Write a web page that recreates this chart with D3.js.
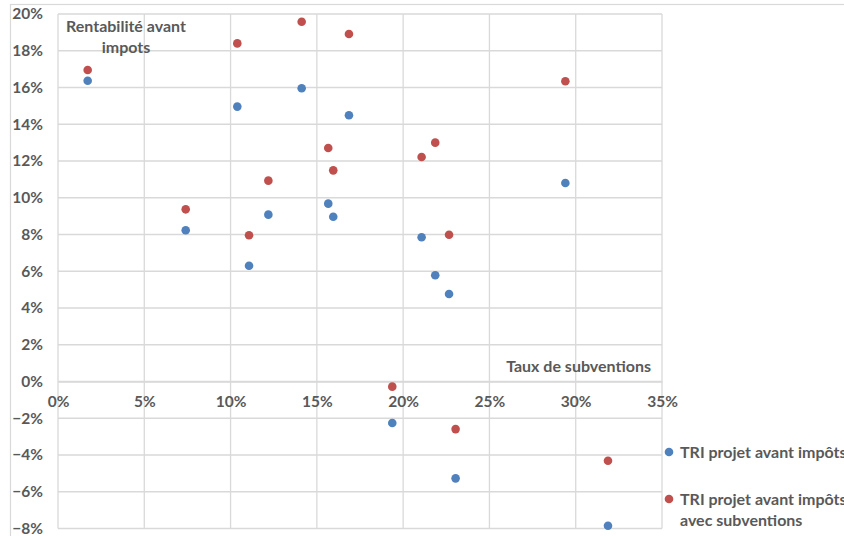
<!DOCTYPE html>
<html>
<head>
<meta charset="utf-8">
<script src="https://cdn.jsdelivr.net/npm/d3@7"></script>
<style>
  html, body { margin: 0; padding: 0; background: #fff; overflow: hidden; }
  svg { display: block; }
  text { font-family: Lato, "Open Sans", sans-serif; font-weight: bold; fill: #595959; }
</style>
</head>
<body>
<svg id="chart" width="844" height="536"></svg>
<script>
// Taux de subventions (fraction) for each project
const tauxSubventions = [0.0172, 0.0740, 0.1039, 0.1107, 0.1219, 0.1412, 0.1566, 0.1595,
                         0.1686, 0.1937, 0.2107, 0.2186, 0.2266, 0.2304, 0.2940, 0.3187];
// TRI projet avant impôts
const triAvantImpots = [0.1637, 0.0823, 0.1496, 0.0630, 0.0908, 0.1596, 0.0968, 0.0897,
                        0.1449, -0.0226, 0.0785, 0.0578, 0.0476, -0.0527, 0.1080, -0.0785];
// TRI projet avant impôts avec subventions
const triAvecSubventions = [0.1695, 0.0937, 0.1840, 0.0796, 0.1093, 0.1958, 0.1271, 0.1149,
                            0.1891, -0.0028, 0.1222, 0.1300, 0.0799, -0.0259, 0.1634, -0.0431];

const xTicks = [0, 0.05, 0.10, 0.15, 0.20, 0.25, 0.30, 0.35];
const yTicks = [-0.08, -0.06, -0.04, -0.02, 0, 0.02, 0.04, 0.06, 0.08, 0.10, 0.12, 0.14, 0.16, 0.18, 0.20];

const seriesNames = ["TRI projet avant impôts", "TRI projet avant impôts avec subventions"];
const seriesColors = ["#4F81BD", "#C0504D"];
const xTitle = "Taux de subventions";
const yTitleLines = ["Rentabilité avant", "impots"];

const svg = d3.select("#chart");
const plot = { left: 58, right: 662, top: 14, bottom: 528.5 };

const x = d3.scaleLinear().domain([0, 0.35]).range([plot.left, plot.right]);
const y = d3.scaleLinear().domain([-0.08, 0.20]).range([plot.bottom, plot.top]);
const pct = d3.format(".0%");
const gridColor = "#d9d9d9";
const tickFont = 15.5;
const labelFont = 16;

// chart area frame
svg.append("rect")
  .attr("x", 10.5).attr("y", 4.5)
  .attr("width", 900).attr("height", 600)
  .attr("fill", "none").attr("stroke", gridColor).attr("stroke-width", 1.2);

// gridlines
svg.append("g").selectAll("line").data(yTicks).join("line")
  .attr("x1", plot.left).attr("x2", plot.right)
  .attr("y1", d => y(d)).attr("y2", d => y(d))
  .attr("stroke", gridColor).attr("stroke-width", 1.3);
svg.append("g").selectAll("line").data(xTicks).join("line")
  .attr("x1", d => x(d)).attr("x2", d => x(d))
  .attr("y1", plot.top).attr("y2", plot.bottom)
  .attr("stroke", gridColor).attr("stroke-width", 1.3);

// horizontal axis crosses at 0%
const xAxis = d3.axisBottom(x).tickValues(xTicks).tickFormat(pct).tickSize(0).tickPadding(14);
const gx = svg.append("g").attr("transform", `translate(0,${y(0)})`).call(xAxis);
gx.select(".domain").attr("stroke", gridColor).attr("stroke-width", 1.3);
gx.selectAll("text").attr("font-size", tickFont).style("font-family", "Lato, sans-serif");

const yAxis = d3.axisLeft(y).tickValues(yTicks).tickFormat(pct).tickSize(0).tickPadding(15);
const gy = svg.append("g").attr("transform", `translate(${plot.left},0)`).call(yAxis);
gy.select(".domain").remove();
gy.selectAll("text").attr("font-size", tickFont).style("font-family", "Lato, sans-serif");

// axis titles
svg.append("text")
  .attr("x", 651).attr("y", 366).attr("dy", "0.35em")
  .attr("text-anchor", "end").attr("font-size", labelFont)
  .text(xTitle);
svg.append("text")
  .attr("x", 126).attr("y", 32).attr("dy", "0.35em")
  .attr("text-anchor", "middle").attr("font-size", labelFont)
  .selectAll("tspan").data(yTitleLines).join("tspan")
  .attr("x", 126).attr("dy", (d, i) => i === 0 ? 0 : 21)
  .text(d => d);

// points
const seriesData = [triAvantImpots, triAvecSubventions];
seriesData.forEach((vals, s) => {
  svg.append("g").selectAll("circle")
    .data(vals.map((v, i) => [tauxSubventions[i], v]))
    .join("circle")
    .attr("cx", d => x(d[0])).attr("cy", d => y(d[1]))
    .attr("r", 4.3)
    .attr("fill", seriesColors[s]);
});

// legend
const legendRows = [
  { lines: ["TRI projet avant impôts"], y: 452 },
  { lines: ["TRI projet avant impôts", "avec subventions"], y: 499 }
];
const lg = svg.append("g");
legendRows.forEach((row, i) => {
  lg.append("circle").attr("cx", 669).attr("cy", row.y).attr("r", 4.3).attr("fill", seriesColors[i]);
  lg.append("text")
    .attr("x", 680).attr("y", row.y).attr("font-size", labelFont)
    .selectAll("tspan").data(row.lines).join("tspan")
    .attr("x", 680).attr("dy", (d, j) => j === 0 ? "0.35em" : 21)
    .text(d => d);
});
</script>
</body>
</html>
